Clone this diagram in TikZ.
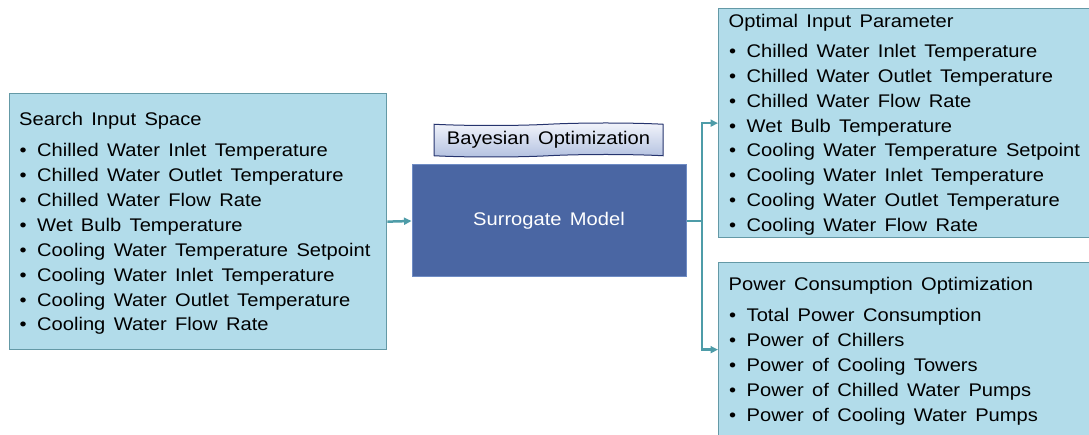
\documentclass[tikz,border=0pt]{standalone}
\usepackage{fontspec}
\setmainfont{Liberation Sans}[FakeStretch=1.1,WordSpace=1.5]
\usetikzlibrary{arrows.meta,shapes.symbols}
\definecolor{boxfill}{HTML}{B2DCEA}
\definecolor{boxline}{HTML}{6499A6}
\definecolor{arrowc}{HTML}{4E9CA8}
\definecolor{surrfill}{HTML}{4A66A3}
\definecolor{surrline}{HTML}{6F8CC4}
\definecolor{bayline}{HTML}{26346E}
\definecolor{baytop}{HTML}{F2F4FB}
\definecolor{baybot}{HTML}{B3C1E0}
\begin{document}
\begin{tikzpicture}[x=1pt,y=-1pt,
  infobox/.style={draw=boxline,line width=1.3pt,fill=boxfill,anchor=north west,inner sep=0pt},
  txt/.style={anchor=base west,inner sep=0pt,font=\fontsize{18.3}{22}\selectfont,text=black},
  flow/.style={draw=arrowc,line width=2.5pt,-{Triangle[length=7.5pt,width=7pt]}}]
\useasboundingbox (0,0) rectangle (1089,435);
\clip (0,0) rectangle (1089,435);
% boxes
\node[infobox,minimum width=377pt,minimum height=256pt] (search) at (9,93) {};
\node[infobox,minimum width=380pt,minimum height=229pt] (opt) at (718,8) {};
\node[infobox,minimum width=380pt,minimum height=174pt] (pow) at (718,262) {};
\node[draw=surrline,line width=1pt,fill=surrfill,minimum width=274pt,minimum height=112pt,inner sep=0pt,
      text=white,font=\fontsize{18.3}{22}\selectfont] (surr) at (549,221) {Surrogate Model};
\node[shape=tape,tape bend top=in and out,tape bend bottom=in and out,tape bend height=2.5pt,
      draw=bayline,line width=1pt,top color=baytop,bottom color=baybot,minimum width=229pt,minimum height=34pt,
      inner sep=0pt,font=\fontsize{18.3}{22}\selectfont] (bayes) at (548.5,140) {Bayesian Optimization};
% left texts
\node[txt] (st) at (19,126) {Search Input Space};
\foreach \t [count=\i] in {Chilled Water Inlet Temperature,Chilled Water Outlet Temperature,Chilled Water Flow Rate,Wet Bulb Temperature,Cooling Water Temperature Setpoint,Cooling Water Inlet Temperature,Cooling Water Outlet Temperature,Cooling Water Flow Rate}
  \node[txt] (s\i) at (19.5,157+24.85*\i-24.85) {\makebox[17.5pt][l]{\textbullet}\t};
% optimal texts
\node[txt] (ot) at (728.5,27.3) {Optimal Input Parameter};
\foreach \t [count=\i] in {Chilled Water Inlet Temperature,Chilled Water Outlet Temperature,Chilled Water Flow Rate,Wet Bulb Temperature,Cooling Water Temperature Setpoint,Cooling Water Inlet Temperature,Cooling Water Outlet Temperature,Cooling Water Flow Rate}
  \node[txt] (o\i) at (729,57.5+24.85*\i-24.85) {\makebox[17.5pt][l]{\textbullet}\t};
% power texts
\node[txt] (pt) at (728.5,290.7) {Power Consumption Optimization};
\foreach \t [count=\i] in {Total Power Consumption,Power of Chillers,Power of Cooling Towers,Power of Chilled Water Pumps,Power of Cooling Water Pumps}
  \node[txt] (p\i) at (729,321.7+24.85*\i-24.85) {\makebox[17.5pt][l]{\textbullet}\t};
% connectors
\coordinate (J) at (702,221);
\draw[flow] (search.east) -- (surr.west);
\draw[draw=arrowc,line width=2.5pt] (surr.east) -- (J);
\draw[flow] (J) |- (opt.west);
\draw[flow] (J) |- (pow.west);
\end{tikzpicture}
\end{document}
